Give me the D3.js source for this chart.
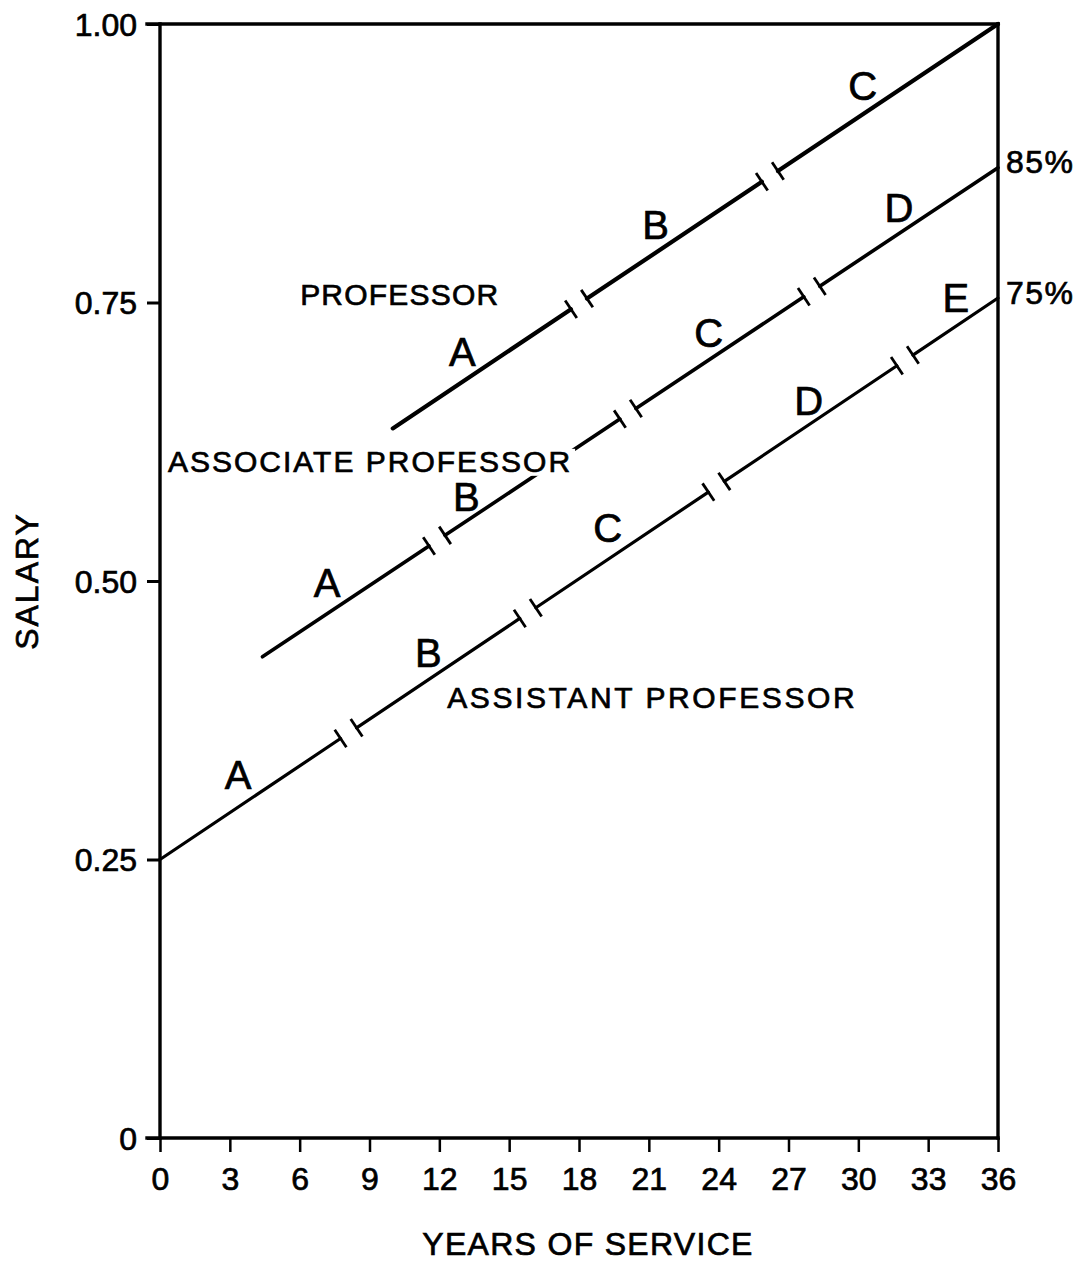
<!DOCTYPE html>
<html>
<head>
<meta charset="utf-8">
<script src="https://cdn.jsdelivr.net/npm/d3@7"></script>
<style>
  html, body { margin: 0; padding: 0; background: #fff; }
  svg { display: block; }
  text { font-family: "Liberation Sans", Arial, sans-serif; fill: #000; stroke: #000; stroke-width: 0.7px; }
</style>
</head>
<body>
<svg id="chart" width="1090" height="1261"></svg>
<script>
// ---------------- data ----------------
const ranks        = ["ASSISTANT PROFESSOR", "ASSOCIATE PROFESSOR", "PROFESSOR"];
const startYear    = [0, 4.4, 10.0];
const startSalary  = [0.25, 0.432, 0.637];
const endYear      = [36, 36, 36];
const endSalary    = [0.754, 0.871, 1.0];
const stepBreaks   = [[8.1, 15.8, 23.9, 32.0], [11.9, 20.1, 28.0], [18.0, 26.2]];
const stepLetters  = [["A", "B", "C", "D", "E"], ["A", "B", "C", "D"], ["A", "B", "C"]];
const endLabels    = ["75%", "85%", ""];
const xTicks       = [0, 3, 6, 9, 12, 15, 18, 21, 24, 27, 30, 33, 36];
const xTickLabels  = ["0", "3", "6", "9", "12", "15", "18", "21", "24", "27", "30", "33", "36"];
const yTicks       = [0, 0.25, 0.5, 0.75, 1.0];
const yTickLabels  = ["0", "0.25", "0.50", "0.75", "1.00"];
const xTitle = "YEARS OF SERVICE";
const yTitle = "SALARY";

// ---------------- annotation placement (data units) ----------------
const letterX = [[3.35, 11.53, 19.23, 27.87, 34.19], [7.18, 13.16, 23.57, 31.74], [12.99, 21.29, 30.19]];
const letterY = [[0.326, 0.436, 0.548, 0.662, 0.754], [0.499, 0.576, 0.723, 0.835], [0.706, 0.820, 0.945]];
const rankLabelX = [12.34, 0.34, 6.02];
const rankLabelY = [0.386, 0.598, 0.748];

// ---------------- layout ----------------
const svg = d3.select("#chart");
const x = d3.scaleLinear().domain([0, 36]).range([160, 998]);
const y = d3.scaleLinear().domain([0, 1]).range([1138, 24]);
const FONT = "'Liberation Sans', Arial, sans-serif";
const lineW = [3.2, 3.6, 4.2];
const gapPx = 16;        // horizontal gap at a step break
const tickHalf = 10.5;   // half length of break ticks
const rankSpacing = [2.6, 2.0, 1.2];

// frame & axes
const frame = svg.append("g").attr("stroke", "#000").attr("stroke-width", 3.4).attr("stroke-linecap", "square");
frame.append("line").attr("x1", x(0)).attr("x2", x(0)).attr("y1", y(1)).attr("y2", y(0));
frame.append("line").attr("x1", x(0) - 13).attr("x2", x(36)).attr("y1", y(0)).attr("y2", y(0));
frame.append("line").attr("x1", x(0) - 13).attr("x2", x(36)).attr("y1", y(1)).attr("y2", y(1));
frame.append("line").attr("x1", x(36)).attr("x2", x(36)).attr("y1", y(1)).attr("y2", y(0));

// x axis ticks
const xAxis = d3.axisBottom(x).tickValues(xTicks).tickSize(14).tickPadding(8)
  .tickFormat((d, i) => xTickLabels[i]);
const gx = svg.append("g").attr("transform", `translate(0,${y(0)})`).call(xAxis);
gx.select(".domain").remove();
gx.selectAll(".tick line").attr("stroke", "#000").attr("stroke-width", 2.5);
gx.selectAll(".tick text").attr("font-size", 32).attr("font-family", FONT).attr("fill", "#000")
  .attr("dy", "0.95em");

// y axis ticks
const yAxis = d3.axisLeft(y).tickValues(yTicks).tickSize(13).tickPadding(10)
  .tickFormat((d, i) => yTickLabels[i]);
const gy = svg.append("g").attr("transform", `translate(${x(0)},0)`).call(yAxis);
gy.select(".domain").remove();
gy.selectAll(".tick line").attr("stroke", "#000").attr("stroke-width", 3);
gy.selectAll(".tick text").attr("font-size", 32).attr("font-family", FONT).attr("fill", "#000")
  .attr("dy", "0.35em");

// axis titles
svg.append("text").attr("x", 588).attr("y", 1255).attr("text-anchor", "middle")
  .attr("font-size", 32).attr("letter-spacing", 1.3).text(xTitle);
svg.append("text").attr("transform", `translate(38,${y(0.5)}) rotate(-90)`).attr("text-anchor", "middle")
  .attr("font-size", 32).attr("letter-spacing", 2).text(yTitle);

// salary lines with step breaks
const lines = svg.append("g");
ranks.forEach((r, i) => {
  const x0 = startYear[i], x1 = endYear[i];
  const s0 = startSalary[i], s1 = endSalary[i];
  const sal = t => s0 + (s1 - s0) * (t - x0) / (x1 - x0);
  const px = t => x(t), py = t => y(sal(t));
  const angle = Math.atan2(py(x1) - py(x0), px(x1) - px(x0));
  const nx = -Math.sin(angle), ny = Math.cos(angle);
  const halfGapYears = x.invert(x(0) + gapPx / 2) - x.invert(x(0));
  const cuts = [x0, ...stepBreaks[i], x1];
  for (let k = 0; k < cuts.length - 1; k++) {
    const a = k === 0 ? cuts[k] : cuts[k] + halfGapYears;
    const b = k === cuts.length - 2 ? cuts[k + 1] : cuts[k + 1] - halfGapYears;
    lines.append("line").attr("x1", px(a)).attr("y1", py(a)).attr("x2", px(b)).attr("y2", py(b))
      .attr("stroke", "#000").attr("stroke-width", lineW[i]).attr("stroke-linecap", "round");
    if (k > 0) {
      lines.append("line")
        .attr("x1", px(a) - nx * tickHalf).attr("y1", py(a) - ny * tickHalf)
        .attr("x2", px(a) + nx * tickHalf).attr("y2", py(a) + ny * tickHalf)
        .attr("stroke", "#000").attr("stroke-width", 2.8);
    }
    if (k < cuts.length - 2) {
      lines.append("line")
        .attr("x1", px(b) - nx * tickHalf).attr("y1", py(b) - ny * tickHalf)
        .attr("x2", px(b) + nx * tickHalf).attr("y2", py(b) + ny * tickHalf)
        .attr("stroke", "#000").attr("stroke-width", 2.8);
    }
  }
  // step letters
  stepLetters[i].forEach((L, k) => {
    svg.append("text").attr("x", x(letterX[i][k])).attr("y", y(letterY[i][k]))
      .attr("text-anchor", "middle").attr("dy", "0.36em").attr("font-size", 40).text(L);
  });
  // end label
  if (endLabels[i]) {
    svg.append("text").attr("x", x(36) + 8).attr("y", y(s1) - 6).attr("dy", "0.36em")
      .attr("font-size", 32).attr("letter-spacing", 1.5).text(endLabels[i]);
  }
});

// rank labels with white knockout
ranks.forEach((r, i) => {
  const g = svg.append("g");
  const t = g.append("text").attr("x", x(rankLabelX[i])).attr("y", y(rankLabelY[i]))
    .attr("font-size", 30).attr("letter-spacing", rankSpacing[i]).text(r);
  const bb = t.node().getBBox();
  g.insert("rect", "text").attr("x", bb.x - 3).attr("y", bb.y + 4).attr("width", bb.width + 6)
    .attr("height", bb.height - 6).attr("fill", "#fff");
});
</script>
</body>
</html>
